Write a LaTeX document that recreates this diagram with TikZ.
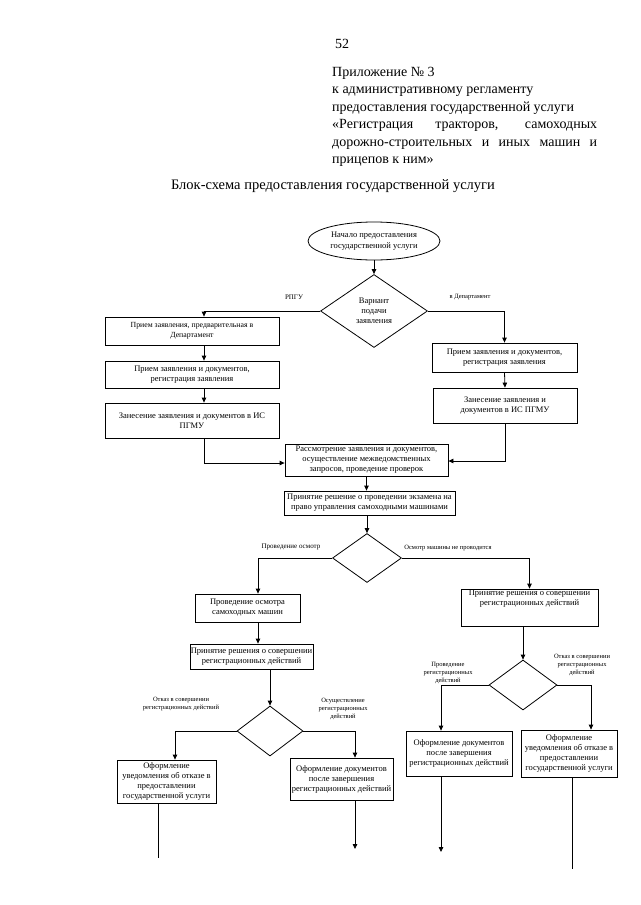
\documentclass[tikz,border=0pt]{standalone}
\usepackage{fontspec}
\setmainfont{Liberation Serif}
\usetikzlibrary{shapes.geometric,arrows.meta,calc}
\begin{document}
\begin{tikzpicture}[x=1pt,y=-1pt,
  hdr/.style={inner sep=0pt, font=\fontsize{14}{17}\selectfont},
  box/.style={draw, line width=0.8pt, align=center, inner sep=1pt, font=\fontsize{8.5}{10}\selectfont},
  dia/.style={draw, diamond, line width=0.8pt, inner sep=0pt, align=center},
  lbl/.style={inner sep=0pt, align=center, font=\fontsize{6.5}{8}\selectfont},
  arr/.style={line width=0.8pt, -{Triangle[length=5pt,width=4.5pt]}},
  ln/.style={line width=0.8pt}]
\useasboundingbox[fill=white] (0,0) rectangle (640,905);

% header
\node[hdr, anchor=base west] (pg) at (335,48) {52};
\node[hdr, anchor=base west] (t1) at (332,76) {Приложение № 3};
\node[hdr, anchor=base west] (t2) at (332,93.5) {к административному регламенту};
\node[hdr, anchor=base west] (t3) at (332,111) {предоставления государственной услуги};
\node[hdr, anchor=base west] (t4) at (332,128.5) {\makebox[265pt][s]{«Регистрация тракторов, самоходных}};
\node[hdr, anchor=base west] (t5) at (332,146) {\makebox[265pt][s]{дорожно-строительных и иных машин и}};
\node[hdr, anchor=base west] (t6) at (332,163.5) {прицепов к ним»};
\node[hdr, anchor=base, font=\fontsize{14.5}{17}\selectfont] (title) at (333,189) {Блок-схема предоставления государственной услуги};

% flowchart nodes
\node[draw, ellipse, line width=0.8pt, align=center, inner sep=0pt, minimum width=132pt, minimum height=38pt, font=\fontsize{8.5}{10.5}\selectfont] (start) at (374,241) {Начало предоставления\\государственной услуги};
\node[dia, minimum width=107pt, minimum height=73pt, font=\fontsize{8.5}{10}\selectfont] (d1) at (374,311) {Варнант\\подачи\\заявления};

\node[box, minimum width=174pt, minimum height=28pt, font=\fontsize{7.8}{10}\selectfont] (a1) at (192,331) {Прием заявления, предварительная в\\Департамент};
\node[box, minimum width=174pt, minimum height=27pt] (a2) at (192,374.5) {Прием заявления и документов,\\регистрация заявления};
\node[box, minimum width=174pt, minimum height=35pt] (a3) at (192,420.5) {Занесение заявления и документов в ИС\\ПГМУ};

\node[box, minimum width=145pt, minimum height=29pt] (b1) at (504.5,357.5) {Прием заявления и документов,\\регистрация заявления};
\node[box, minimum width=144pt, minimum height=35pt] (b2) at (505,405.5) {Занесение заявления и\\документов в ИС ПГМУ};

\node[box, minimum width=163pt, minimum height=32pt] (c) at (366.5,460) {Рассмотрение заявления и документов,\\осуществление межведомственных\\запросов, проведение проверок};
\node[box, minimum width=171pt, minimum height=24pt, inner sep=0.5pt] (d) at (369.5,503) {Принятие решение о проведении экзамена на\\право управления самоходными машинами};

\node[dia, minimum width=69pt, minimum height=49pt] (d2) at (367,558) {};
\node[box, minimum width=105pt, minimum height=28pt] (e1) at (247.5,608) {Проведение осмотра\\самоходных машин};
\node[box, minimum width=137pt, minimum height=37pt, inner sep=0.5pt] (e2) at (529.5,607.5) {\parbox[c][35pt][t]{136pt}{\centering Принятие решения о совершении\\регистрационных действий}};

\node[box, minimum width=123pt, minimum height=25pt, inner sep=0.5pt] (f1) at (251.5,656.5) {Принятие решения о совершении\\регистрационных действий};
\node[dia, minimum width=66pt, minimum height=50pt] (d3) at (270,731) {};
\node[box, minimum width=99pt, minimum height=43pt, inner sep=0.5pt] (g1) at (166.5,781.5) {Оформление\\уведомления об отказе в\\предоставлении\\государственной услуги};
\node[box, minimum width=103pt, minimum height=42pt, inner sep=0.5pt] (g2) at (341.5,779) {Оформление документов\\после завершения\\регистрационных действий};

\node[dia, minimum width=68pt, minimum height=50pt] (d4) at (523,685) {};
\node[box, minimum width=106pt, minimum height=45pt, inner sep=0.5pt] (h1) at (459,753.5) {Оформление документов\\после завершения\\регистрационных действий};
\node[box, minimum width=96pt, minimum height=47pt, inner sep=0.5pt] (h2) at (569,753.5) {Оформление\\уведомления об отказе в\\предоставлении\\государственной услуги};

% labels
\node[lbl, font=\fontsize{7}{8}\selectfont] (l1) at (294,297) {РПГУ};
\node[lbl] (l2) at (470,297) {в Департамент};
\node[lbl, font=\fontsize{7}{8}\selectfont] (l3) at (291,547) {Проведение осмотр};
\node[lbl] (l4) at (448,548) {Осмотр машины не проводится};
\node[lbl] (l5) at (181,704) {Отказ в совершении\\регистрационных действий};
\node[lbl] (l6) at (343,709) {Осуществление\\регистрационных\\действий};
\node[lbl] (l7) at (448,673) {Проведение\\регистрационных\\действий};
\node[lbl] (l8) at (582,665) {Отказ в совершении\\регистрационных\\действий};

% helper coordinates
\coordinate (xL) at (204,0);
\coordinate (xE) at (258,0);
\coordinate (xG1) at (175,0);
\coordinate (xG2) at (355,0);
\coordinate (xH1) at (441,0);
\coordinate (xH2) at (591,0);
\coordinate (g1end) at (158,858);
\coordinate (g2end) at (355,849);
\coordinate (h1end) at (441,852);
\coordinate (h2end) at (572,869);

% connectors
\draw[arr] (start.south -| d1.north) -- (d1.north);
\draw[arr] (d1.west) -| (a1.north -| xL);
\draw[arr] (d1.east) -| (b1.north);
\draw[arr] (a1.south -| xL) -- (a2.north -| xL);
\draw[arr] (a2.south -| xL) -- (a3.north -| xL);
\draw[arr] (b1.south) -- (b2.north);
\draw[arr] (a3.south -| xL) |- ($(c.west)+(0,3)$);
\draw[arr] (b2.south) |- ($(c.east)+(0,1)$);
\draw[arr] (c.south) -- (c.south |- d.north);
\draw[arr] (d2.north |- d.south) -- (d2.north);
\draw[arr] (d2.west) -| (e1.north -| xE);
\draw[arr] (d2.east) -| (e2.north);
\draw[arr] (e1.south -| xE) -- (f1.north -| xE);
\draw[arr] (d3.north |- f1.south) -- (d3.north);
\draw[arr] (d3.west) -| (g1.north -| xG1);
\draw[arr] (d3.east) -| (g2.north -| xG2);
\draw[ln] (g1.south -| g1end) -- (g1end);
\draw[arr] (g2.south -| g2end) -- (g2end);
\draw[arr] (d4.north |- e2.south) -- (d4.north);
\draw[arr] (d4.west) -| (h1.north -| xH1);
\draw[arr] (d4.east) -| (h2.north -| xH2);
\draw[arr] (h1.south -| h1end) -- (h1end);
\draw[ln] (h2.south -| h2end) -- (h2end);
\end{tikzpicture}
\end{document}
